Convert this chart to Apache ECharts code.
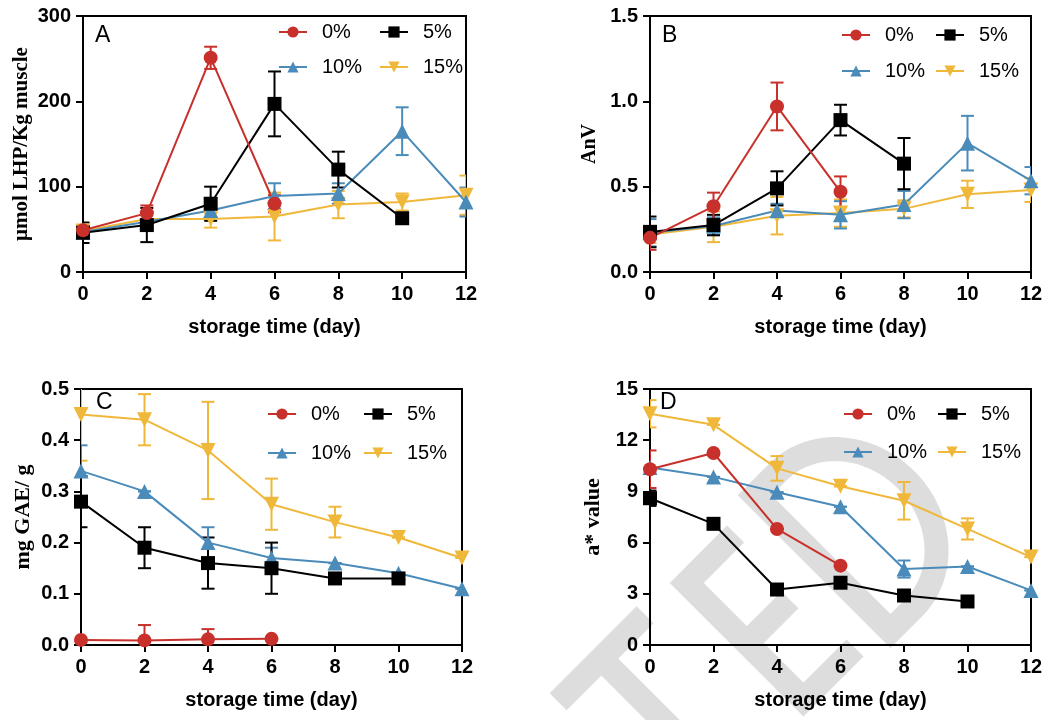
<!DOCTYPE html>
<html>
<head>
<meta charset="utf-8">
<script src="https://cdn.jsdelivr.net/npm/echarts@6/dist/echarts.min.js"></script>
<style>
html,body{margin:0;padding:0;background:#fff;}
#c{width:1049px;height:720px;}
</style>
</head>
<body>
<div id="c"></div>
<script>
// ---------- data ----------
const days = [0, 2, 4, 6, 8, 10, 12];
const groups = ['0%', '5%', '10%', '15%'];

// Panel A: µmol LHP/Kg muscle
const A_0 = [49, 69, 251, 80, null, null, null];
const A_0_err = [5, 9, 13, 10, null, null, null];
const A_5 = [46, 55, 80, 197, 120, 63, null];
const A_5_err = [12, 20, 20, 38, 21, 3, null];
const A_10 = [47, 59, 72, 89, 92, 165, 82];
const A_10_err = [8, 10, 8, 15, 12, 28, 17];
const A_15 = [48, 62, 62, 65, 79, 82, 90];
const A_15_err = [6, 8, 10, 28, 16, 10, 23];

// Panel B: AnV
const B_0 = [0.20, 0.385, 0.97, 0.47, null, null, null];
const B_0_err = [0.07, 0.08, 0.14, 0.09, null, null, null];
const B_5 = [0.235, 0.275, 0.49, 0.89, 0.635, null, null];
const B_5_err = [0.09, 0.06, 0.10, 0.09, 0.15, null, null];
const B_10 = [0.23, 0.27, 0.36, 0.335, 0.395, 0.755, 0.535];
const B_10_err = [0.08, 0.05, 0.04, 0.08, 0.08, 0.16, 0.08];
const B_15 = [0.22, 0.265, 0.33, 0.345, 0.37, 0.455, 0.48];
const B_15_err = [0.05, 0.09, 0.11, 0.08, 0.05, 0.08, 0.07];

// Panel C: mg GAE/ g
const C_0 = [0.010, 0.009, 0.011, 0.012, null, null, null];
const C_0_err = [0, 0.03, 0.02, 0, null, null, null];
const C_5 = [0.28, 0.19, 0.16, 0.15, 0.13, 0.13, null];
const C_5_err = [0.05, 0.04, 0.05, 0.05, 0, 0, null];
const C_10 = [0.34, 0.30, 0.20, 0.17, 0.16, 0.14, 0.11];
const C_10_err = [0.05, 0, 0.03, 0.02, 0, 0, 0];
const C_15 = [0.45, 0.44, 0.38, 0.275, 0.24, 0.21, 0.17];
const C_15_err = [0.09, 0.05, 0.095, 0.05, 0.03, 0, 0];

// Panel D: a* value
const D_0 = [10.3, 11.25, 6.8, 4.65, null, null, null];
const D_0_err = [1.1, 0, 0, 0, null, null, null];
const D_5 = [8.6, 7.1, 3.25, 3.65, 2.9, 2.55, null];
const D_5_err = [0.45, 0, 0, 0, 0, 0, null];
const D_10 = [10.4, 9.85, 8.95, 8.1, 4.45, 4.6, 3.2];
const D_10_err = [0, 0, 0, 0, 0.5, 0, 0];
const D_15 = [13.55, 12.9, 10.35, 9.3, 8.45, 6.8, 5.15];
const D_15_err = [0.8, 0, 0.72, 0, 1.1, 0.62, 0];

const yTitles = ['μmol LHP/Kg muscle', 'AnV', 'mg GAE/ g', 'a* value'];
const panelLetters = ['A', 'B', 'C', 'D'];
const xTitle = 'storage time (day)';

// ---------- styling ----------
const colors = {'0%': '#C8302B', '5%': '#000000', '10%': '#4A8BBA', '15%': '#F0B83A'};
const symbols = {'0%': 'circle', '5%': 'rect', '10%': 'triangle', '15%': 'path://M0,0 L10,0 L5,9 Z'};
const symSize = {'0%': 14, '5%': 14, '10%': 15, '15%': 15};

const panelData = [
  {vals: [A_0, A_5, A_10, A_15], errs: [A_0_err, A_5_err, A_10_err, A_15_err], max: 300, interval: 100, dec: 0,
   grid: {left: 83, top: 16, width: 383, height: 256}, nameGap: 51, nameSize: 21,
   legendX: [278, 379], legendY: [32, 67], letter: [95, 36]},
  {vals: [B_0, B_5, B_10, B_15], errs: [B_0_err, B_5_err, B_10_err, B_15_err], max: 1.5, interval: 0.5, dec: 1,
   grid: {left: 650, top: 16, width: 381, height: 256}, nameGap: 50, nameSize: 20,
   legendX: [841, 935], legendY: [35, 71], letter: [662, 36]},
  {vals: [C_0, C_5, C_10, C_15], errs: [C_0_err, C_5_err, C_10_err, C_15_err], max: 0.5, interval: 0.1, dec: 1,
   grid: {left: 81, top: 389, width: 381, height: 256}, nameGap: 47, nameSize: 22,
   legendX: [267, 363], legendY: [414, 453], letter: [96, 403]},
  {vals: [D_0, D_5, D_10, D_15], errs: [D_0_err, D_5_err, D_10_err, D_15_err], max: 15, interval: 3, dec: 0,
   grid: {left: 650, top: 389, width: 381, height: 256}, nameGap: 46, nameSize: 22,
   legendX: [843, 937], legendY: [414, 452], letter: [660, 403]}
];

const grids = [], xAxes = [], yAxes = [], series = [], legends = [], graphics = [];

// ---------- light grey "TED" watermark (decoration, drawn in a rotated local frame) ----------
const WO = [807, 713], WU = [0.7071, -0.7071], WV = [-0.7071, -0.7071];
const wp = (u, v) => [WO[0] + u * WU[0] + v * WV[0], WO[1] + u * WU[1] + v * WV[1]];
const wmStrokes = [];
// T
wmStrokes.push({closed: false, pts: [[-168, 184], [-45, 184]]});
wmStrokes.push({closed: false, pts: [[-107, 184], [-107, -60]]});
// E
wmStrokes.push({closed: false, pts: [[76, 177], [7, 177], [7, 12], [80, 12]]});
wmStrokes.push({closed: false, pts: [[7, 92], [68, 92]]});
// D
(function () {
  const pts = [[117, -1], [117, 191], [150, 191]];
  for (let k = 1; k < 48; k++) {
    const a = Math.PI / 2 - Math.PI * k / 48;
    pts.push([150 + 85 * Math.cos(a), 95 + 96 * Math.sin(a)]);
  }
  pts.push([150, -1]);
  wmStrokes.push({closed: true, pts: pts});
})();
wmStrokes.forEach(s => {
  graphics.push({
    type: s.closed ? 'polygon' : 'polyline', z: -10, silent: true,
    shape: {points: s.pts.map(q => wp(q[0], q[1]))},
    style: {stroke: '#dddddd', lineWidth: 24, fill: s.closed ? 'none' : null, lineJoin: 'miter', lineCap: 'butt'}
  });
});

panelData.forEach((p, i) => {
  grids.push(Object.assign({show: true, borderColor: '#000', borderWidth: 2, backgroundColor: 'transparent', containLabel: false}, p.grid));
  xAxes.push({
    type: 'value', gridIndex: i, min: 0, max: 12, interval: 2,
    name: xTitle, nameLocation: 'middle', nameGap: 45,
    nameTextStyle: {fontFamily: 'Liberation Sans', fontWeight: 'bold', fontSize: 20, color: '#000'},
    axisLine: {show: true, lineStyle: {color: '#000', width: 2}},
    axisTick: {show: true, inside: false, length: 7, lineStyle: {color: '#000', width: 2}},
    axisLabel: {fontFamily: 'Liberation Sans', fontWeight: 'bold', fontSize: 20, color: '#000', margin: 12},
    splitLine: {show: false}
  });
  yAxes.push({
    type: 'value', gridIndex: i, min: 0, max: p.max, interval: p.interval,
    name: yTitles[i], nameLocation: 'middle', nameGap: p.nameGap,
    nameTextStyle: {fontFamily: 'Liberation Serif', fontWeight: 'bold', fontSize: p.nameSize, color: '#000'},
    axisLine: {show: true, lineStyle: {color: '#000', width: 2}},
    axisTick: {show: true, inside: false, length: 7, lineStyle: {color: '#000', width: 2}},
    axisLabel: {fontFamily: 'Liberation Sans', fontWeight: 'bold', fontSize: 20, color: '#000', margin: 12,
      formatter: v => v.toFixed(p.dec)},
    splitLine: {show: false}
  });

  // draw order: 15%, 10%, 5%, 0% (0% on top)
  [3, 2, 1, 0].forEach(g => {
    const name = groups[g];
    const col = colors[name];
    const vals = p.vals[g], errs = p.errs[g];
    const pts = [], ebs = [];
    days.forEach((d, k) => {
      if (vals[k] != null) {
        pts.push([d, vals[k]]);
        ebs.push([d, vals[k], errs[k] || 0]);
      }
    });
    series.push({
      type: 'custom', name: name + ' err', xAxisIndex: i, yAxisIndex: i, clip: true, silent: true,
      data: ebs,
      renderItem: (params, api) => {
        const x = api.value(0), y = api.value(1), e = api.value(2);
        const t = api.coord([x, y + e]), b = api.coord([x, y - e]);
        const w = 6.5;
        const st = {stroke: col, lineWidth: 2};
        return {type: 'group', children: [
          {type: 'line', shape: {x1: t[0], y1: t[1], x2: b[0], y2: b[1]}, style: st},
          {type: 'line', shape: {x1: t[0] - w, y1: t[1], x2: t[0] + w, y2: t[1]}, style: st},
          {type: 'line', shape: {x1: b[0] - w, y1: b[1], x2: b[0] + w, y2: b[1]}, style: st}
        ]};
      }
    });
    series.push({
      type: 'line', name: name, xAxisIndex: i, yAxisIndex: i,
      data: pts, symbol: symbols[name], symbolSize: symSize[name], showAllSymbol: true,
      lineStyle: {color: col, width: 2}, itemStyle: {color: col, borderWidth: 0},
      emphasis: {disabled: true}
    });
  });

  // legends: one per item, laid out in two rows of two
  groups.forEach((name, g) => {
    const col = g % 2, row = Math.floor(g / 2);
    legends.push({
      data: [name], left: p.legendX[col], top: p.legendY[row] - 10, orient: 'horizontal',
      padding: 0, itemWidth: 28, itemHeight: 14, selectedMode: false,
      textStyle: {fontFamily: 'Liberation Sans', fontSize: 20, color: '#000', lineHeight: 20, padding: [0, 0, 0, 10]}
    });
  });

  graphics.push({type: 'text', x: p.letter[0], y: p.letter[1], z: 100,
    style: {text: panelLetters[i], fill: '#000', font: '23px "Liberation Sans"', textAlign: 'left', textVerticalAlign: 'middle'}});
});

const chart = echarts.init(document.getElementById('c'), null, {renderer: 'canvas'});
chart.setOption({
  animation: false,
  backgroundColor: '#fff',
  grid: grids, xAxis: xAxes, yAxis: yAxes, series: series, legend: legends, graphic: graphics
});
</script>
</body>
</html>
